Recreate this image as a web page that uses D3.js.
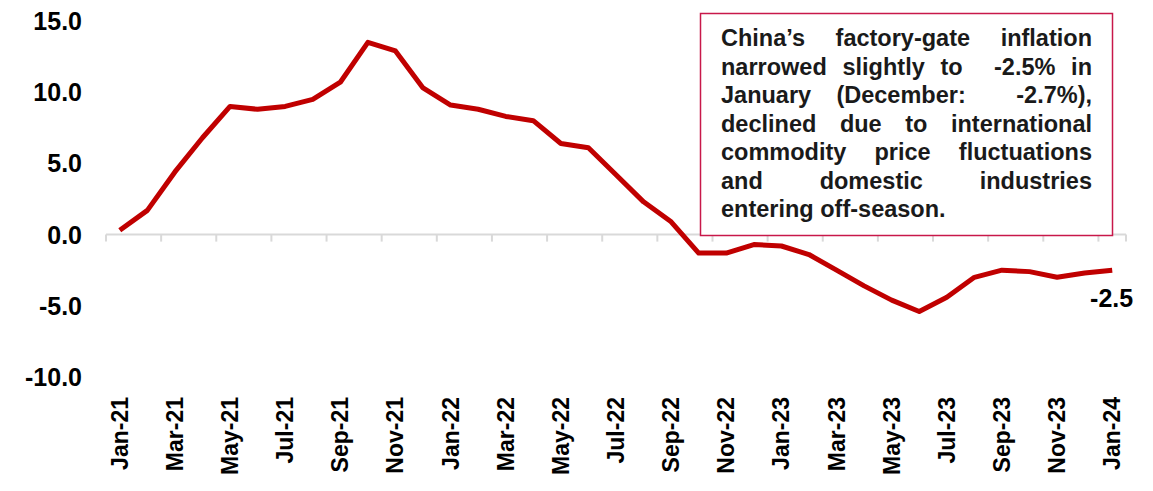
<!DOCTYPE html>
<html><head><meta charset="utf-8">
<script src="https://cdn.jsdelivr.net/npm/d3@7/dist/d3.min.js"></script>
<style>
body{margin:0;background:#fff;}
svg{display:block;font-family:"Liberation Sans",Arial,sans-serif;font-weight:bold;}
</style></head>
<body><svg id="c" width="1153" height="491"></svg>
<script>
const months = ["Jan-21","Feb-21","Mar-21","Apr-21","May-21","Jun-21","Jul-21","Aug-21","Sep-21","Oct-21","Nov-21","Dec-21",
"Jan-22","Feb-22","Mar-22","Apr-22","May-22","Jun-22","Jul-22","Aug-22","Sep-22","Oct-22","Nov-22","Dec-22",
"Jan-23","Feb-23","Mar-23","Apr-23","May-23","Jun-23","Jul-23","Aug-23","Sep-23","Oct-23","Nov-23","Dec-23","Jan-24"];
const ppi = [0.3,1.7,4.4,6.8,9.0,8.8,9.0,9.5,10.7,13.5,12.9,10.3,
9.1,8.8,8.3,8.0,6.4,6.1,4.2,2.3,0.9,-1.3,-1.3,-0.7,
-0.8,-1.4,-2.5,-3.6,-4.6,-5.4,-4.4,-3.0,-2.5,-2.6,-3.0,-2.7,-2.5];
const yTicks = [15,10,5,0,-5,-10];
const lastLabel = "-2.5";
const noteLines = ["China’s factory-gate inflation","narrowed slightly to  -2.5% in","January (December:  -2.7%),","declined due to international","commodity price fluctuations","and domestic industries","entering off-season."];

const svg = d3.select("#c");
const x = d3.scaleBand().domain(months).range([106,1126]).paddingInner(0).paddingOuter(0);
const y = d3.scaleLinear().domain([-10,15]).range([377,21]);

// y labels
svg.append("g").selectAll("text").data(yTicks).join("text")
  .attr("x",82).attr("y",d=>y(d)).attr("dy","0.36em")
  .attr("text-anchor","end").attr("font-size",25).attr("fill","#000")
  .text(d=>d.toFixed(1));

// x axis at zero
const ax = svg.append("g").attr("transform",`translate(0,${y(0)})`);
ax.append("line").attr("x1",106).attr("x2",1126).attr("stroke","#d9d9d9").attr("stroke-width",2);
const tickIdx = months.map((m,i)=>i).filter(i=>i%2===0);
ax.selectAll("line.t").data([...tickIdx, months.length]).join("line").attr("class","t")
  .attr("x1",i=> i<months.length ? x(months[i]) : 1126)
  .attr("x2",i=> i<months.length ? x(months[i]) : 1126)
  .attr("y1",0).attr("y2",7).attr("stroke","#d9d9d9").attr("stroke-width",2);

// x labels
svg.append("g").selectAll("text").data(months.filter((m,i)=>i%2===0)).join("text")
  .attr("transform",d=>`translate(${x(d)+x.bandwidth()/2+8},397) rotate(-90)`)
  .attr("text-anchor","end").attr("font-size",23).attr("fill","#000")
  .text(d=>d);

// line
const line = d3.line().x((d,i)=>x(months[i])+x.bandwidth()/2).y(d=>y(d));
svg.append("path").datum(ppi).attr("d",line).attr("fill","none")
  .attr("stroke","#C00000").attr("stroke-width",5).attr("stroke-linejoin","round");

// last label
svg.append("text").attr("x",x(months[months.length-1])+x.bandwidth()/2+21).attr("y",y(-2.5)+37)
  .attr("text-anchor","end").attr("font-size",25).attr("fill","#000").text(lastLabel);

// annotation box
svg.append("rect").attr("x",700.5).attr("y",13.5).attr("width",412).attr("height",222)
  .attr("fill","#fff").attr("stroke","#C8184A").attr("stroke-width",1.5);
const g = svg.append("g").attr("font-size",23.5).attr("fill","#1a1a1a");
const left = 721, right = 1092;
noteLines.forEach((ln,li)=>{
  const by = 46 + li*28.5;
  if(li===noteLines.length-1){
    g.append("text").attr("x",left).attr("y",by).text(ln);
    return;
  }
  // tokens: words with number of spaces preceding
  const parts = ln.match(/\s*\S+/g);
  const ws = parts.map(p=>{
    const sp = p.length - p.trimStart().length;
    const w = p.trimStart();
    const t = g.append("text").attr("x",0).attr("y",by).text(w);
    return {t, wd:t.node().getComputedTextLength(), sp};
  });
  const total = ws.reduce((s,o)=>s+o.wd,0);
  const nsp = ws.reduce((s,o)=>s+o.sp,0);
  const gap = (right-left-total)/nsp;
  let cx = left;
  ws.forEach(o=>{ cx += o.sp*gap; o.t.attr("x",cx); cx += o.wd; });
});
</script></body></html>
